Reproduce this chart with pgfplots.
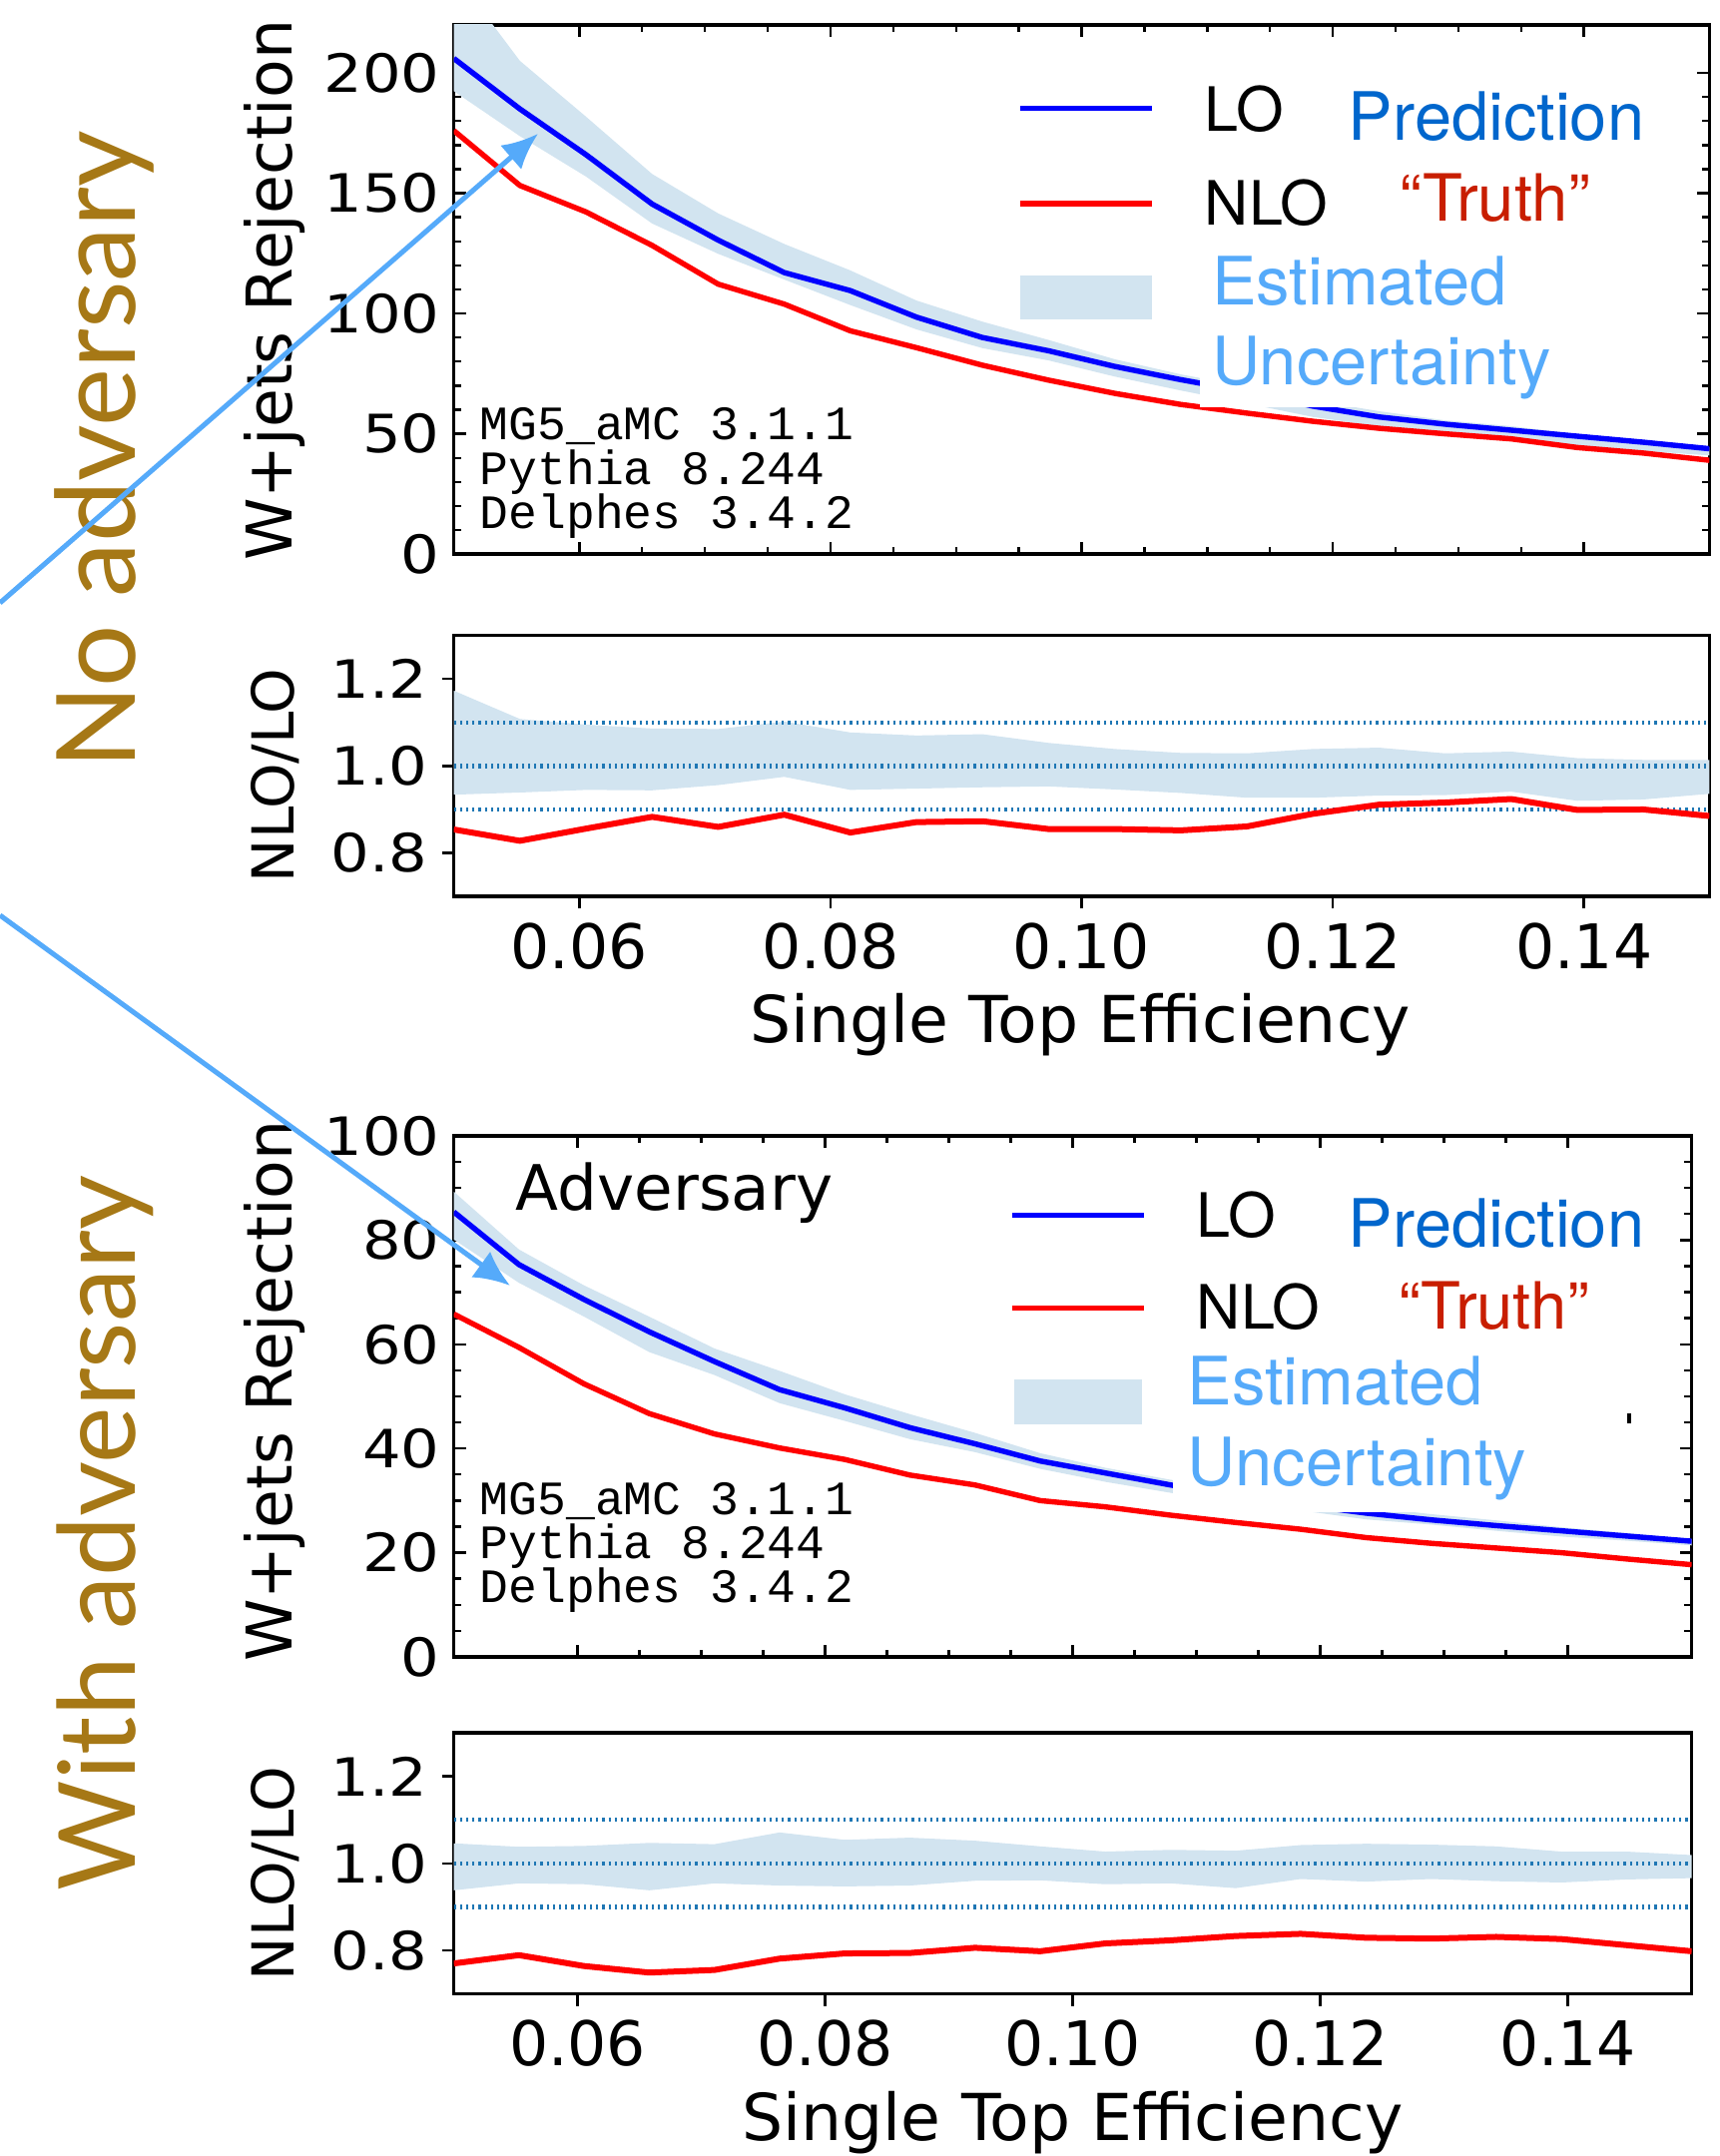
\documentclass[border=0pt]{standalone}
\usepackage{pgfplots}
\pgfplotsset{compat=1.18}
\usepackage{pgfplotstable}
\usepgfplotslibrary{fillbetween}
\usetikzlibrary{arrows.meta}
\usepackage{graphicx}
\usepackage{fontspec}
\setmainfont{DejaVu Sans}
\newfontfamily\ytickfont[FakeStretch=1.15]{DejaVu Sans}
\newfontfamily\helv{TeX Gyre Heros}
\newfontfamily\mono{Liberation Mono}
\newfontfamily\cond{Lato}

\definecolor{loblue}{RGB}{0,0,255}
\definecolor{nlored}{RGB}{255,0,0}
\definecolor{bandc}{RGB}{210,228,240}
\definecolor{dotblue}{RGB}{31,119,180}
\definecolor{predblue}{RGB}{0,102,204}
\definecolor{truthred}{RGB}{200,30,0}
\definecolor{estblue}{RGB}{85,170,250}
\definecolor{goldc}{RGB}{166,120,22}
\definecolor{arrowblue}{RGB}{85,170,250}

\pgfplotstableread{
x lo nlo up dn
0.050000 206.0 176.0 241.6 192.4
0.055263 185.0 153.2 205.0 173.7
0.060526 166.0 142.2 181.8 156.9
0.065789 145.5 128.3 158.0 137.4
0.071053 130.5 112.2 141.6 124.8
0.076316 117.0 103.9 128.9 114.1
0.081579 109.5 92.8 117.9 103.5
0.086842 98.5 85.8 105.4 93.4
0.092105 90.0 78.5 96.6 85.6
0.097368 84.5 72.3 89.0 80.5
0.102632 78.0 66.8 81.0 73.8
0.107895 72.5 62.2 74.7 68.0
0.113158 67.5 58.6 69.5 62.6
0.118421 61.5 55.2 63.9 57.0
0.123684 57.0 52.3 59.4 53.1
0.128947 54.0 50.0 55.6 50.4
0.134211 51.5 47.9 53.2 48.5
0.139474 49.0 44.3 49.9 45.1
0.144737 46.5 42.0 47.2 42.9
0.150000 43.8 39.0 44.4 41.0
}\topmain

\pgfplotstableread{
x r up dn
0.050000 0.854 1.173 0.934
0.055263 0.828 1.108 0.939
0.060526 0.856 1.095 0.945
0.065789 0.883 1.086 0.944
0.071053 0.860 1.085 0.956
0.076316 0.888 1.102 0.975
0.081579 0.847 1.077 0.945
0.086842 0.871 1.070 0.948
0.092105 0.873 1.073 0.951
0.097368 0.855 1.053 0.953
0.102632 0.855 1.039 0.946
0.107895 0.852 1.030 0.938
0.113158 0.861 1.029 0.927
0.118421 0.890 1.039 0.927
0.123684 0.911 1.042 0.932
0.128947 0.916 1.029 0.933
0.134211 0.924 1.033 0.941
0.139474 0.899 1.018 0.920
0.144737 0.900 1.014 0.923
0.150000 0.885 1.014 0.936
}\topratio

\pgfplotstableread{
x lo nlo up dn
0.050000 85.4 65.8 89.3 80.1
0.055263 75.3 59.4 78.2 71.8
0.060526 68.6 52.4 71.3 65.3
0.065789 62.4 46.7 65.3 58.5
0.071053 56.7 42.8 59.2 54.1
0.076316 51.3 40.1 54.9 48.7
0.081579 47.8 37.9 50.4 45.3
0.086842 44.0 34.9 46.6 41.8
0.092105 40.9 33.0 43.0 39.3
0.097368 37.6 30.0 39.1 36.1
0.102632 35.3 28.8 36.3 33.6
0.107895 33.0 27.2 34.0 31.5
0.113158 31.0 25.8 31.9 29.2
0.118421 29.2 24.5 30.4 28.1
0.123684 27.6 22.9 28.8 26.4
0.128947 26.3 21.8 27.4 25.4
0.134211 25.2 20.9 26.2 24.2
0.139474 24.2 20.0 24.9 23.1
0.144737 23.2 18.8 23.8 22.3
0.150000 22.2 17.7 22.6 21.4
}\botmain

\pgfplotstableread{
x r up dn
0.050000 0.770 1.046 0.938
0.055263 0.789 1.038 0.954
0.060526 0.764 1.040 0.952
0.065789 0.749 1.047 0.938
0.071053 0.755 1.044 0.954
0.076316 0.781 1.071 0.949
0.081579 0.793 1.054 0.947
0.086842 0.794 1.059 0.949
0.092105 0.806 1.052 0.960
0.097368 0.798 1.039 0.961
0.102632 0.816 1.027 0.952
0.107895 0.823 1.031 0.954
0.113158 0.833 1.029 0.943
0.118421 0.838 1.042 0.964
0.123684 0.829 1.045 0.958
0.128947 0.827 1.043 0.964
0.134211 0.831 1.039 0.959
0.139474 0.826 1.027 0.956
0.144737 0.812 1.027 0.963
0.150000 0.798 1.019 0.966
}\botratio

\pgfplotsset{
  mainax/.style={
    scale only axis, anchor=south west,
    xmin=0.05, xmax=0.15,
    xtick={0.06,0.08,0.1,0.12,0.14}, minor x tick num=3, xticklabels={},
    tick align=inside,
    axis line style={line width=0.9pt},
    major tick length=3pt, minor tick length=1.8pt,
    every tick/.append style={line width=0.6pt, black},
    yticklabel style={font=\ytickfont\fontsize{13.2}{14}\selectfont},
    axis on top,
  },
  ratioax/.style={
    scale only axis, anchor=south west,
    xmin=0.05, xmax=0.15, ymin=0.7, ymax=1.3,
    xtick={0.06,0.08,0.1,0.12,0.14}, xticklabels={0.06,0.08,0.10,0.12,0.14},
    ytick={0.8,1.0,1.2}, yticklabels={0.8,1.0,1.2},
    tick align=outside, tick pos=left,
    major tick length=3pt,
    axis line style={line width=0.9pt},
    every tick/.append style={line width=0.6pt, black},
    xticklabel style={font=\fontsize{15.4}{16}\selectfont},
    yticklabel style={font=\ytickfont\fontsize{13.2}{14}\selectfont},
  },
  dotl/.style={dotblue, line width=1.1pt, dash pattern=on 0.55pt off 1.0pt, forget plot},
}

\begin{document}
\begin{tikzpicture}

% ---------- top main ----------
\begin{axis}[mainax, at={(113.65pt,401.2pt)}, width=314.45pt, height=132.6pt,
  ymin=0, ymax=220, ytick={0,50,100,150,200}, yticklabels={0,50,100,150,200}, minor y tick num=4]
  \addplot[name path=upA, draw=none, forget plot] table[x=x,y=up]{\topmain};
  \addplot[name path=dnA, draw=none, forget plot] table[x=x,y=dn]{\topmain};
  \addplot[fill=bandc, draw=none, forget plot] fill between[of=upA and dnA];
  \addplot[loblue, line width=1.35pt] table[x=x,y=lo]{\topmain};
  \addplot[nlored, line width=1.35pt] table[x=x,y=nlo]{\topmain};
\end{axis}

% ---------- top ratio ----------
\begin{axis}[ratioax, at={(113.65pt,315.45pt)}, width=314.45pt, height=65.4pt]
  \addplot[name path=upB, draw=none, forget plot] table[x=x,y=up]{\topratio};
  \addplot[name path=dnB, draw=none, forget plot] table[x=x,y=dn]{\topratio};
  \addplot[fill=bandc, draw=none, forget plot] fill between[of=upB and dnB];
  \addplot[dotl] coordinates {(0.05,1.1) (0.15,1.1)};
  \addplot[dotl] coordinates {(0.05,1.0) (0.15,1.0)};
  \addplot[dotl] coordinates {(0.05,0.9) (0.15,0.9)};
  \addplot[nlored, line width=1.5pt] table[x=x,y=r]{\topratio};
\end{axis}

% ---------- bottom main ----------
\begin{axis}[mainax, at={(113.65pt,125pt)}, width=310pt, height=130.5pt,
  ymin=0, ymax=100, ytick={0,20,40,60,80,100}, yticklabels={0,20,40,60,80,100}, minor y tick num=3]
  \addplot[name path=upC, draw=none, forget plot] table[x=x,y=up]{\botmain};
  \addplot[name path=dnC, draw=none, forget plot] table[x=x,y=dn]{\botmain};
  \addplot[fill=bandc, draw=none, forget plot] fill between[of=upC and dnC];
  \addplot[loblue, line width=1.35pt] table[x=x,y=lo]{\botmain};
  \addplot[nlored, line width=1.35pt] table[x=x,y=nlo]{\botmain};
\end{axis}

% ---------- bottom ratio ----------
\begin{axis}[ratioax, at={(113.65pt,40.6pt)}, width=310pt, height=65.4pt]
  \addplot[name path=upD, draw=none, forget plot] table[x=x,y=up]{\botratio};
  \addplot[name path=dnD, draw=none, forget plot] table[x=x,y=dn]{\botratio};
  \addplot[fill=bandc, draw=none, forget plot] fill between[of=upD and dnD];
  \addplot[dotl] coordinates {(0.05,1.1) (0.15,1.1)};
  \addplot[dotl] coordinates {(0.05,1.0) (0.15,1.0)};
  \addplot[dotl] coordinates {(0.05,0.9) (0.15,0.9)};
  \addplot[nlored, line width=1.5pt] table[x=x,y=r]{\botratio};
\end{axis}

% ---------- white legend backgrounds ----------
\fill[white] (300.5pt,437.9pt) rectangle (422pt,477.5pt);
\fill[white] (293.75pt,161.25pt) rectangle (419pt,203.75pt);
\draw[black, line width=0.8pt] (408pt,183.5pt) -- (408pt,186pt);

% ---------- top legend ----------
\draw[loblue, line width=1.35pt] (255.5pt,512.8pt) -- (288.5pt,512.8pt);
\draw[nlored, line width=1.35pt] (255.5pt,489pt) -- (288.5pt,489pt);
\fill[bandc] (255.5pt,460.1pt) rectangle (288.5pt,471.1pt);
\node[anchor=base west, inner sep=0, font=\helv\fontsize{15.3}{16}\selectfont] at (301.5pt,507pt) {LO};
\node[anchor=base west, inner sep=0, font=\helv\fontsize{15.3}{16}\selectfont] at (301.5pt,483.7pt) {NLO};
\node[anchor=base west, inner sep=0, text=predblue, font=\helv\fontsize{16.7}{18}\selectfont] at (337.5pt,504.8pt) {Prediction};
\node[anchor=base west, inner sep=0, text=truthred, font=\helv\fontsize{16.3}{18}\selectfont] at (350.5pt,484.5pt) {“Truth”};
\node[anchor=base west, inner sep=0, text=estblue, font=\helv\fontsize{16.7}{18}\selectfont] at (303.3pt,463.6pt) {Estimated};
\node[anchor=base west, inner sep=0, text=estblue, font=\helv\fontsize{16.7}{18}\selectfont] at (303.3pt,443.7pt) {Uncertainty};

% ---------- bottom legend ----------
\draw[loblue, line width=1.35pt] (253.5pt,235.6pt) -- (286.5pt,235.6pt);
\draw[nlored, line width=1.35pt] (253.5pt,212.4pt) -- (286.5pt,212.4pt);
\fill[bandc] (254pt,183.25pt) rectangle (286pt,194.5pt);
\node[anchor=base west, inner sep=0, font=\helv\fontsize{15.3}{16}\selectfont] at (299.5pt,230.1pt) {LO};
\node[anchor=base west, inner sep=0, font=\helv\fontsize{15.3}{16}\selectfont] at (299.5pt,207.1pt) {NLO};
\node[anchor=base west, inner sep=0, text=predblue, font=\helv\fontsize{16.7}{18}\selectfont] at (337.5pt,227.7pt) {Prediction};
\node[anchor=base west, inner sep=0, text=truthred, font=\helv\fontsize{16.3}{18}\selectfont] at (350.2pt,207.1pt) {“Truth”};
\node[anchor=base west, inner sep=0, text=estblue, font=\helv\fontsize{16.7}{18}\selectfont] at (297.2pt,188pt) {Estimated};
\node[anchor=base west, inner sep=0, text=estblue, font=\helv\fontsize{16.7}{18}\selectfont] at (297.2pt,167.9pt) {Uncertainty};

% ---------- in-plot texts ----------
\node[anchor=base west, inner sep=0, font=\fontsize{15.7}{17}\selectfont] at (129pt,236.8pt) {Adversary};
\node[anchor=base west, inner sep=0, font=\mono\fontsize{12}{12}\selectfont] at (120pt,429.75pt) {MG5\_aMC 3.1.1};
\node[anchor=base west, inner sep=0, font=\mono\fontsize{12}{12}\selectfont] at (120pt,418.65pt) {Pythia 8.244};
\node[anchor=base west, inner sep=0, font=\mono\fontsize{12}{12}\selectfont] at (120pt,407.55pt) {Delphes 3.4.2};
\node[anchor=base west, inner sep=0, font=\mono\fontsize{12}{12}\selectfont] at (120pt,160.7pt) {MG5\_aMC 3.1.1};
\node[anchor=base west, inner sep=0, font=\mono\fontsize{12}{12}\selectfont] at (120pt,149.6pt) {Pythia 8.244};
\node[anchor=base west, inner sep=0, font=\mono\fontsize{12}{12}\selectfont] at (120pt,138.5pt) {Delphes 3.4.2};

% ---------- axis labels ----------
\node[rotate=90, anchor=base, inner sep=0, font=\fontsize{15.8}{16}\selectfont] at (73pt,467.3pt) {W+jets Rejection};
\node[rotate=90, anchor=base, inner sep=0, font=\fontsize{15.8}{16}\selectfont] at (73pt,191.6pt) {W+jets Rejection};
\node[rotate=90, anchor=base, inner sep=0, font=\fontsize{14.5}{16}\selectfont] at (73.7pt,345.75pt) {NLO/LO};
\node[rotate=90, anchor=base, inner sep=0, font=\fontsize{14.5}{16}\selectfont] at (73.7pt,70.75pt) {NLO/LO};
\node[anchor=base, inner sep=0, font=\fontsize{16.2}{17}\selectfont] at (270.5pt,278.8pt) {Single Top Efficiency};
\node[anchor=base, inner sep=0, font=\fontsize{16.2}{17}\selectfont] at (268.6pt,3.9pt) {Single Top Efficiency};

% ---------- side titles ----------
\node[rotate=90, anchor=base, inner sep=0, text=goldc] at (33.75pt,427.25pt) {\resizebox{160pt}{!}{\cond\fontsize{28}{30}\selectfont No adversary}};
\node[rotate=90, anchor=base, inner sep=0, text=goldc] at (33.75pt,156pt) {\resizebox{179pt}{!}{\cond\fontsize{28}{30}\selectfont With adversary}};

% ---------- arrows ----------
\draw[arrowblue, line width=1.25pt, -{Latex[length=9pt,width=8pt]}] (0pt,389pt) -- (134.75pt,506.5pt);
\draw[arrowblue, line width=1.25pt, -{Latex[length=9pt,width=8pt]}] (0pt,310.75pt) -- (127.75pt,218pt);

\pgfresetboundingbox
\useasboundingbox (0,0) rectangle (430.5pt,540pt);
\end{tikzpicture}
\end{document}
